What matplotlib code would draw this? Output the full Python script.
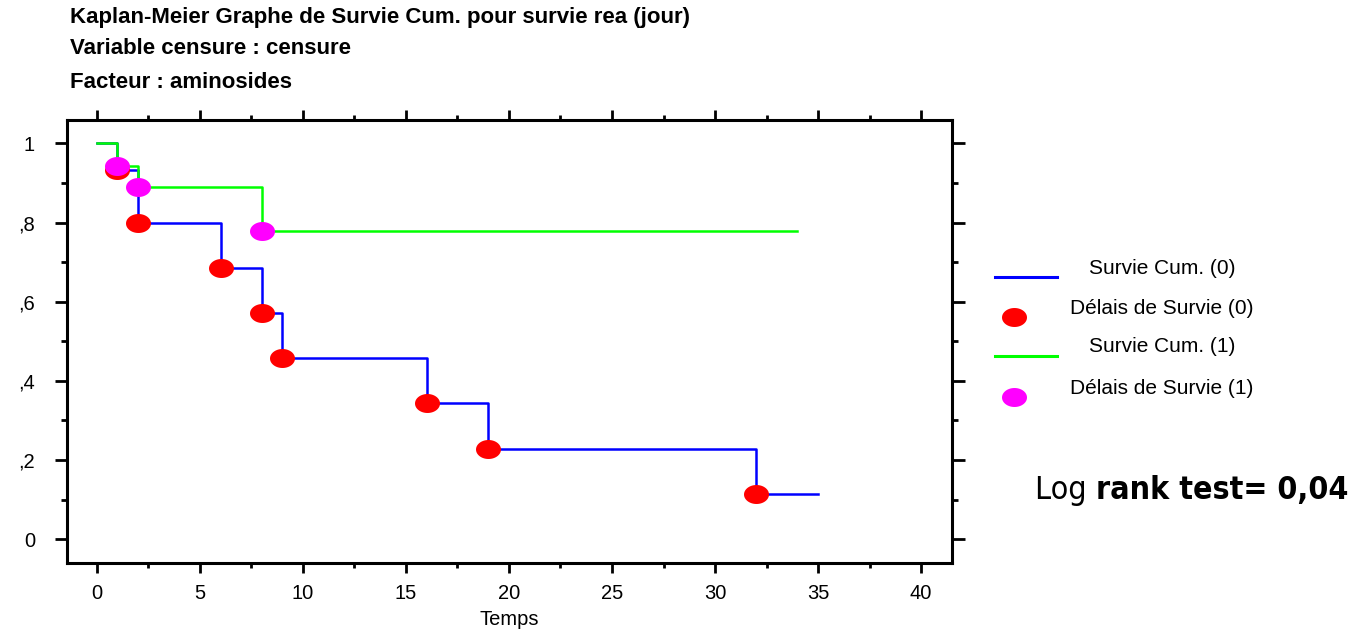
import numpy as np
import matplotlib
matplotlib.use("Agg")
import matplotlib.pyplot as plt
from matplotlib.path import Path
from matplotlib.lines import Line2D
from matplotlib.ticker import FuncFormatter, MultipleLocator

plt.rcParams['font.family'] = ['Liberation Sans', 'DejaVu Sans']

# groupe 0 (aminosides = 0)
temps_0 = [0, 1, 2, 6, 8, 9, 16, 19, 32, 35]
surv_0 = [1.0, 0.933, 0.800, 0.686, 0.571, 0.457, 0.343, 0.229, 0.114, 0.114]
# groupe 1
temps_1 = [0, 1, 2, 8, 34]
surv_1 = [1.0, 0.944, 0.889, 0.778, 0.778]

legend_labels = ["Survie Cum. (0)", "Délais de Survie (0)",
                 "Survie Cum. (1)", "Délais de Survie (1)"]

# ellipse marker (wider than tall)
t = np.linspace(0, 2 * np.pi, 60)
ellipse = Path(np.column_stack([np.cos(t), 0.76 * np.sin(t)]), closed=True)

fig = plt.figure(figsize=(13.5, 6.33), dpi=100)
ax = fig.add_axes([67 / 1350, 1 - 563 / 633, (952 - 67) / 1350, (563 - 120) / 633])

ax.step(temps_0, surv_0, where='post', color='#0000ff', lw=1.8, zorder=2)
ax.step(temps_1, surv_1, where='post', color='#00ff00', lw=1.8, zorder=2)
ax.plot(temps_0[1:-1], surv_0[1:-1], ls='none', marker=ellipse, ms=18,
        color='#ff0000', mec='none', zorder=3)
ax.plot(temps_1[1:-1], surv_1[1:-1], ls='none', marker=ellipse, ms=18,
        color='#ff00ff', mec='none', zorder=4)

ax.set_xlim(-1.45, 41.5)
ax.set_ylim(-0.06, 1.059)
ax.xaxis.set_major_locator(MultipleLocator(5))
ax.xaxis.set_minor_locator(MultipleLocator(2.5))
ax.yaxis.set_major_locator(MultipleLocator(0.2))
ax.yaxis.set_minor_locator(MultipleLocator(0.1))


def yfmt(v, pos):
    if abs(v) < 1e-9:
        return "0"
    if abs(v - 1) < 1e-9:
        return "1"
    return "," + str(int(round(v * 10)))


ax.yaxis.set_major_formatter(FuncFormatter(yfmt))
for s in ax.spines.values():
    s.set_linewidth(2.2)
ax.tick_params(which='both', direction='out', top=True, right=True,
               labeltop=False, labelright=False, width=2, labelsize=14.5)
ax.tick_params(axis='y', which='major', length=9, pad=14)
ax.tick_params(axis='y', which='minor', length=4.5)
ax.tick_params(axis='x', which='major', length=7, pad=8)
ax.tick_params(axis='x', which='minor', length=3.5)
ax.set_xlabel("Temps", fontsize=14.5, labelpad=5)

# titre
titre = ["Kaplan-Meier Graphe de Survie Cum. pour survie rea (jour)",
         "Variable censure : censure",
         "Facteur : aminosides"]
for ligne, ty in zip(titre, [18, 49, 82]):
    fig.text(70 / 1350, 1 - ty / 633, ligne, fontsize=16, fontweight='bold',
             va='center', ha='left')

# legende
leg_y = [277, 317, 356, 397]
txt_y = [269, 308, 347, 388]
styles = [('line', '#0000ff'), ('mark', '#ff0000'), ('line', '#00ff00'), ('mark', '#ff00ff')]
for (kind, c), ly, ty, lab in zip(styles, leg_y, txt_y, legend_labels):
    yf = 1 - ly / 633
    if kind == 'line':
        fig.add_artist(Line2D([995 / 1350, 1057 / 1350], [yf, yf], color=c, lw=2.2,
                              transform=fig.transFigure))
    else:
        fig.add_artist(Line2D([1014 / 1350], [yf], ls='none', marker=ellipse, ms=18,
                              color=c, mec='none', transform=fig.transFigure))
    fig.text(1162 / 1350, 1 - ty / 633, lab, fontsize=15, ha='center', va='center')

narrow = ['DejaVu Sans']
t1 = fig.text(1035 / 1350, 1 - 490 / 633, "Log ", fontsize=23, family=narrow,
              stretch='condensed', ha='left', va='center')
fig.canvas.draw()
bb = t1.get_window_extent()
fig.text(bb.x1 / 1350, 1 - 490 / 633, "rank test= 0,04", fontsize=23, family=narrow,
         stretch='condensed', fontweight='bold', ha='left', va='center')

fig.savefig("out.png", dpi=100)
